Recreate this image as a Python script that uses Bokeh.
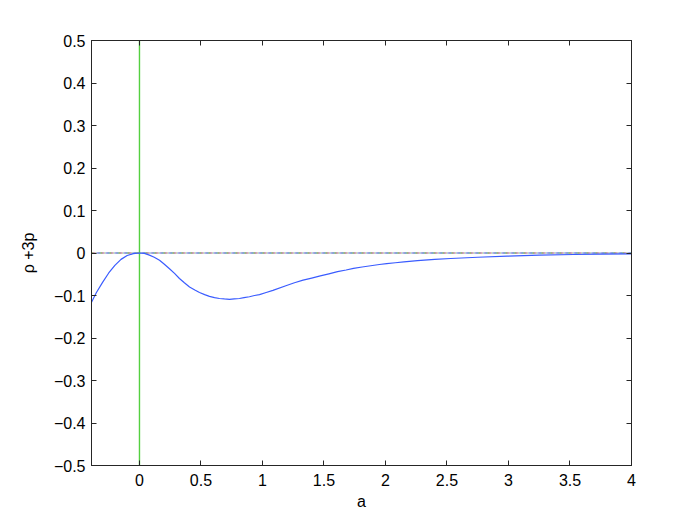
from bokeh.plotting import figure
from bokeh.models import FixedTicker, LinearAxis, Range1d
from bokeh.embed import file_html
from bokeh.resources import INLINE

# values
a_vals = [-0.39, -0.35, -0.3, -0.25, -0.2, -0.15, -0.1, -0.05, 0.0,
          0.04, 0.081, 0.12, 0.163, 0.2, 0.244, 0.285, 0.325, 0.365, 0.407, 0.45, 0.488,
          0.53, 0.569, 0.61, 0.65, 0.69, 0.732, 0.77, 0.813, 0.85, 0.894, 0.935, 0.976,
          1.03, 1.085, 1.19, 1.26, 1.33, 1.40, 1.47, 1.54, 1.61, 1.68, 1.74, 1.81, 1.88,
          1.95, 2.01, 2.08, 2.15, 2.26, 2.4, 2.53, 2.75, 2.99, 3.25, 3.53, 3.75, 4.0]
rho_3p = [-0.116, -0.093, -0.069, -0.047, -0.029, -0.015, -0.006, -0.0015, 0.0,
          -0.001, -0.005, -0.010, -0.017, -0.026, -0.037, -0.048, -0.060, -0.070, -0.080, -0.087, -0.093,
          -0.098, -0.102, -0.105, -0.107, -0.108, -0.109, -0.108, -0.107, -0.105, -0.103, -0.100, -0.098,
          -0.093, -0.088, -0.077, -0.070, -0.064, -0.059, -0.054, -0.049, -0.044, -0.040, -0.036, -0.033, -0.030,
          -0.027, -0.025, -0.023, -0.021, -0.018, -0.015, -0.013, -0.010, -0.0075, -0.005, -0.0035, -0.0027, -0.002]
x_ticks = [0, 0.5, 1, 1.5, 2, 2.5, 3, 3.5, 4]
x_tick_labels = ["0", "0.5", "1", "1.5", "2", "2.5", "3", "3.5", "4"]
y_ticks = [-0.5, -0.4, -0.3, -0.2, -0.1, 0, 0.1, 0.2, 0.3, 0.4, 0.5]
y_tick_labels = ["\u22120.5", "\u22120.4", "\u22120.3", "\u22120.2", "\u22120.1", "0", "0.1", "0.2", "0.3", "0.4", "0.5"]
x_min, x_max = -0.39, 4.0
y_min, y_max = -0.5, 0.5
vline_x = 0.0
hline_y = 0.0

FONT = "Liberation Sans"
FS = "16px"

p = figure(width=682, height=516, output_backend="svg", toolbar_location=None,
           x_range=Range1d(x_min, x_max), y_range=Range1d(y_min, y_max),
           min_border_left=91, min_border_right=51, min_border_top=40, min_border_bottom=51,
           x_axis_label="a", y_axis_label="\u03c1 +3p")
p.grid.visible = False
p.outline_line_color = "#262626"
p.outline_line_width = 1
p.background_fill_color = "white"
p.border_fill_color = "white"

# dash-dot multicoloured zero line (several overlaid series)
for col, off in [("#ff5050", 0), ("#40c040", 2), ("#5070ff", 4)]:
    p.line([x_min, x_max], [hline_y, hline_y], line_color=col, line_width=1,
           line_dash="4 2 1 2", line_dash_offset=off, line_alpha=0.9)

# vertical green line
p.line([vline_x, vline_x], [y_min, y_max], line_color="#55d040", line_width=1.4)

# curve
p.line(a_vals, rho_3p, line_color="#3a5cff", line_width=1.2)

def style_axis(ax):
    ax.axis_line_color = "#262626"
    ax.major_tick_line_color = "#262626"
    ax.major_tick_in = 5
    ax.major_tick_out = 0
    ax.minor_tick_line_color = None
    ax.major_label_text_font = FONT
    ax.major_label_text_font_size = FS
    ax.major_label_text_color = "black"
    ax.axis_label_text_font = FONT
    ax.axis_label_text_font_size = FS
    ax.axis_label_text_font_style = "normal"
    ax.axis_label_text_color = "black"

xa = p.xaxis[0]
xa.ticker = FixedTicker(ticks=x_ticks)
xa.major_label_overrides = {t: l for t, l in zip(x_ticks, x_tick_labels)}
style_axis(xa)
xa.major_label_standoff = 8
xa.axis_label_standoff = 4

ya = p.yaxis[0]
ya.ticker = FixedTicker(ticks=y_ticks)
ya.major_label_overrides = {t: l for t, l in zip(y_ticks, y_tick_labels)}
style_axis(ya)
ya.major_label_standoff = 6
ya.axis_label_standoff = 14

top = LinearAxis(ticker=FixedTicker(ticks=x_ticks))
style_axis(top)
top.major_label_overrides = {t: "" for t in x_ticks}
p.add_layout(top, "above")
right = LinearAxis(ticker=FixedTicker(ticks=y_ticks))
style_axis(right)
right.major_label_overrides = {t: "" for t in y_ticks}
p.add_layout(right, "right")

open("out.html", "w").write(file_html(p, INLINE))
